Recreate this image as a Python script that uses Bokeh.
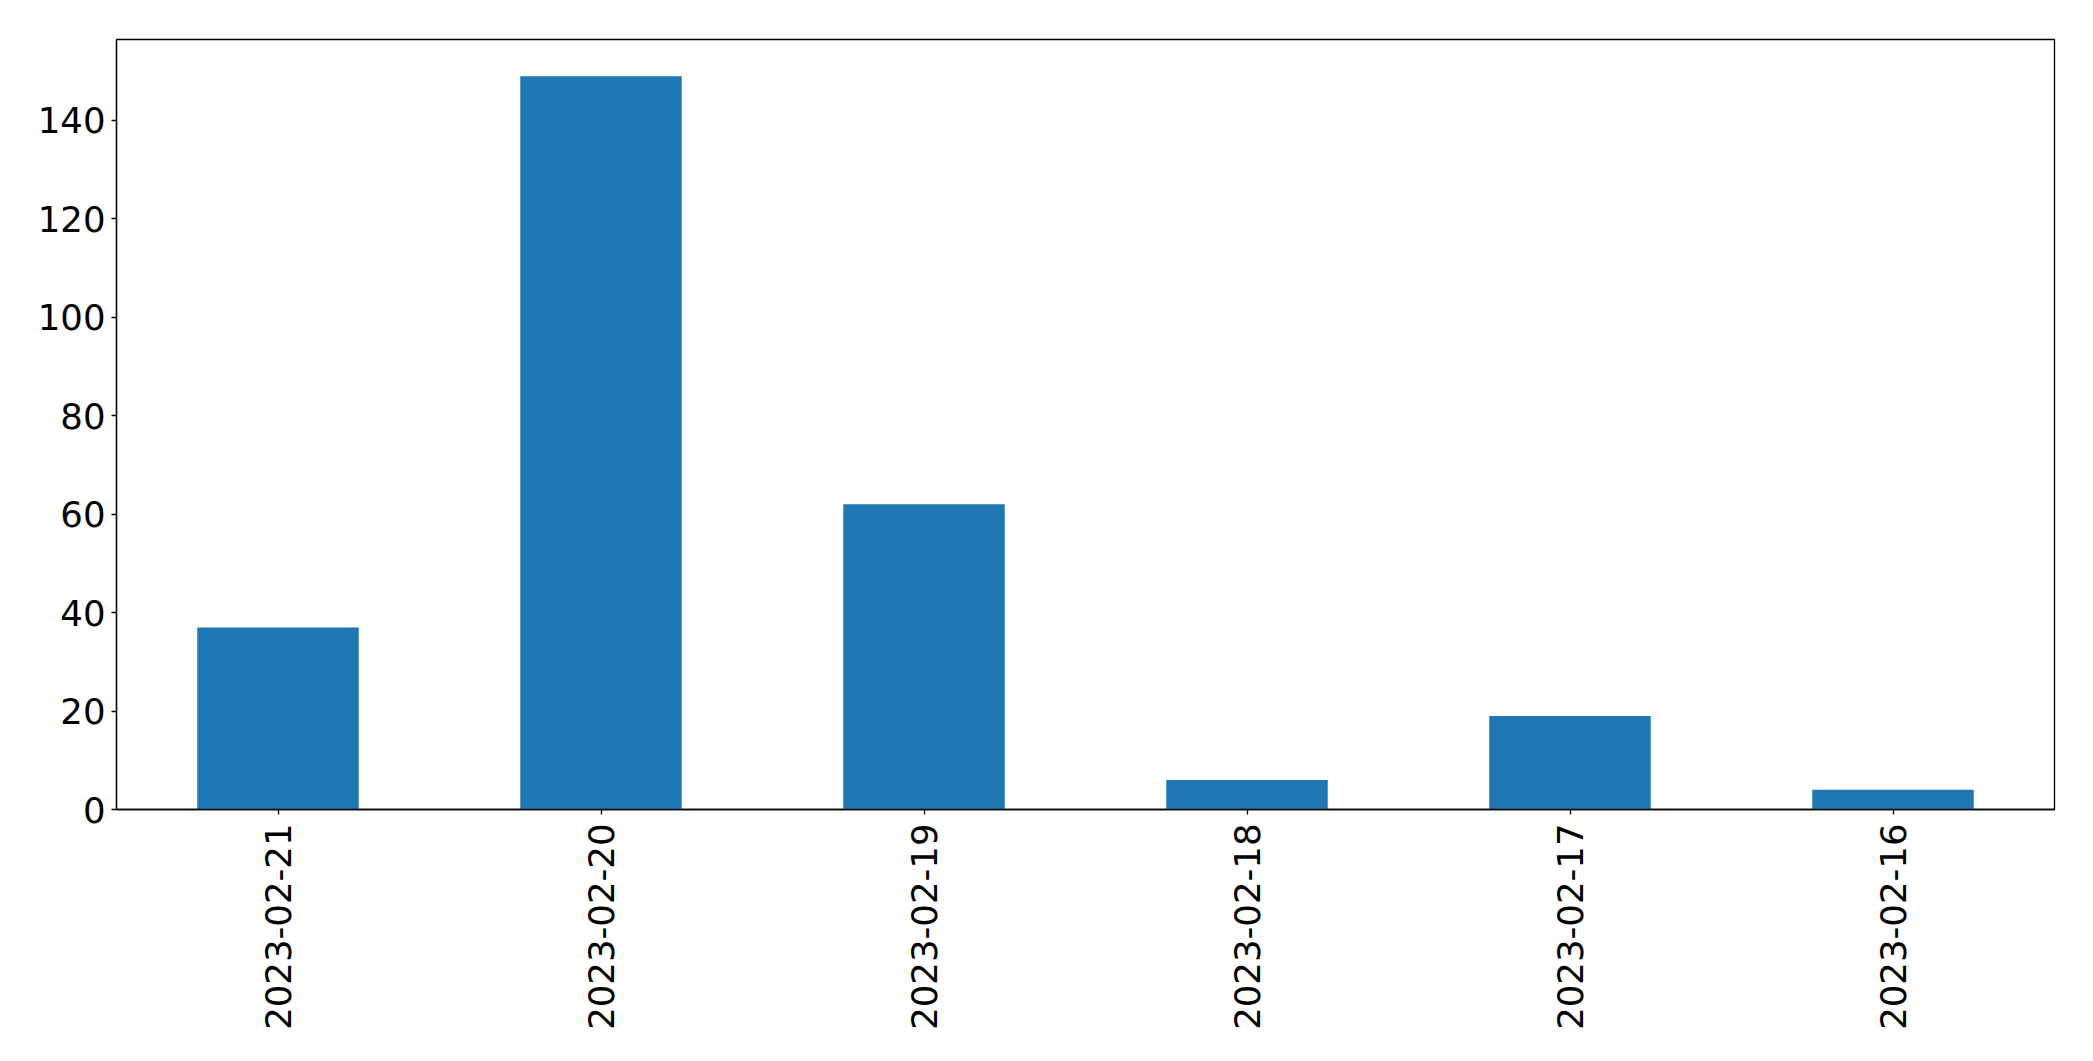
import math
from bokeh.plotting import figure
from bokeh.models import Range1d, FixedTicker, ColumnDataSource
from bokeh.embed import file_html
from bokeh.resources import INLINE

dates = ["2023-02-21", "2023-02-20", "2023-02-19", "2023-02-18", "2023-02-17", "2023-02-16"]
counts = [37, 149, 62, 6, 19, 4]
y_ticks = [0, 20, 40, 60, 80, 100, 120, 140]

src = ColumnDataSource(dict(date=dates, count=counts))

p = figure(x_range=dates, y_range=Range1d(0, max(counts) * 1.05),
           frame_width=1938, frame_height=770, output_backend="svg",
           toolbar_location=None, min_border_left=116, min_border_top=39,
           min_border_right=23, min_border_bottom=230)
p.vbar(x="date", top="count", width=0.5, source=src, fill_color="#1f77b4", line_color=None)

p.xgrid.visible = False
p.ygrid.visible = False
p.outline_line_color = "black"
p.outline_line_width = 1.3
p.background_fill_color = "white"
p.border_fill_color = "white"

p.yaxis.ticker = FixedTicker(ticks=y_ticks)
for ax in (p.xaxis[0], p.yaxis[0]):
    ax.major_label_text_font = "DejaVu Sans"
    ax.major_label_text_font_size = "35.5px"
    ax.major_label_text_color = "black"
    ax.axis_line_color = "black"
    ax.axis_line_width = 1.3
    ax.major_tick_line_color = "black"
    ax.major_tick_line_width = 1.3
    ax.major_tick_out = 5
    ax.major_tick_in = 0
    ax.minor_tick_line_color = None
p.yaxis.major_label_standoff = 6
p.xaxis.major_label_standoff = 9
p.xaxis.major_label_orientation = math.pi / 2

open("out.html", "w").write(file_html(p, INLINE))
